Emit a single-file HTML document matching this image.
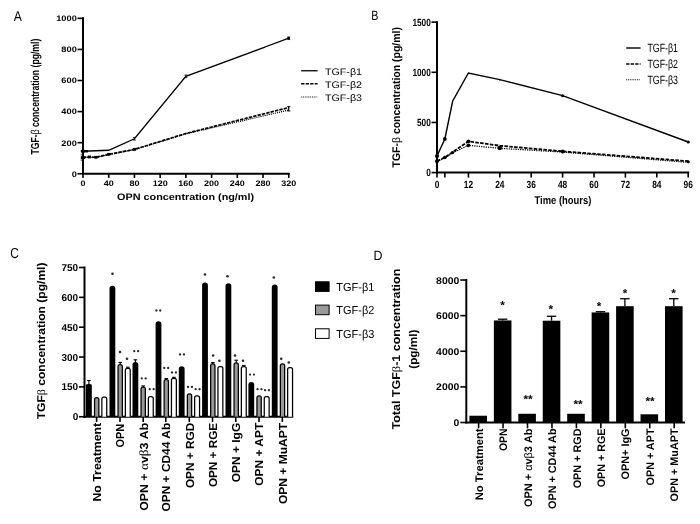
<!DOCTYPE html>
<html><head><meta charset="utf-8"><title>Figure</title>
<style>
html,body{margin:0;padding:0;background:#fff;}
body{width:700px;height:524px;overflow:hidden;}
svg{display:block;font-family:'Liberation Sans', sans-serif;}
svg text{font-family:"Liberation Sans",sans-serif;fill:#000;}
</style></head><body>
<svg width="700" height="524" viewBox="0 0 700 524" shape-rendering="geometricPrecision" text-rendering="geometricPrecision">
<defs><filter id="soft" x="0" y="0" width="700" height="524" filterUnits="userSpaceOnUse"><feGaussianBlur stdDeviation="0.38"/></filter></defs>
<rect x="0" y="0" width="700" height="524" fill="#fff"/>
<g filter="url(#soft)">
<text x="13.70" y="20.72" font-size="14.3" text-anchor="start" textLength="8.10" lengthAdjust="spacingAndGlyphs">A</text>
<text x="371.20" y="20.00" font-size="13.4" text-anchor="start" textLength="7.20" lengthAdjust="spacingAndGlyphs">B</text>
<text x="10.20" y="258.19" font-size="14.5" text-anchor="start" textLength="8.60" lengthAdjust="spacingAndGlyphs">C</text>
<text x="373.60" y="260.10" font-size="13.4" text-anchor="start" textLength="9.00" lengthAdjust="spacingAndGlyphs">D</text>
<line x1="83.00" y1="17.35" x2="83.00" y2="174.75" stroke="#000" stroke-width="2"/>
<line x1="82.00" y1="173.75" x2="289.75" y2="173.75" stroke="#000" stroke-width="2"/>
<line x1="77.50" y1="173.75" x2="83.00" y2="173.75" stroke="#000" stroke-width="1.6"/>
<text x="76.80" y="176.61" font-size="8.0" font-weight="bold" text-anchor="end" textLength="5.15" lengthAdjust="spacingAndGlyphs">0</text>
<line x1="77.50" y1="142.67" x2="83.00" y2="142.67" stroke="#000" stroke-width="1.6"/>
<text x="76.80" y="145.53" font-size="8.0" font-weight="bold" text-anchor="end" textLength="15.45" lengthAdjust="spacingAndGlyphs">200</text>
<line x1="77.50" y1="111.59" x2="83.00" y2="111.59" stroke="#000" stroke-width="1.6"/>
<text x="76.80" y="114.45" font-size="8.0" font-weight="bold" text-anchor="end" textLength="15.45" lengthAdjust="spacingAndGlyphs">400</text>
<line x1="77.50" y1="80.51" x2="83.00" y2="80.51" stroke="#000" stroke-width="1.6"/>
<text x="76.80" y="83.37" font-size="8.0" font-weight="bold" text-anchor="end" textLength="15.45" lengthAdjust="spacingAndGlyphs">600</text>
<line x1="77.50" y1="49.43" x2="83.00" y2="49.43" stroke="#000" stroke-width="1.6"/>
<text x="76.80" y="52.29" font-size="8.0" font-weight="bold" text-anchor="end" textLength="15.45" lengthAdjust="spacingAndGlyphs">800</text>
<line x1="77.50" y1="18.35" x2="83.00" y2="18.35" stroke="#000" stroke-width="1.6"/>
<text x="76.80" y="21.21" font-size="8.0" font-weight="bold" text-anchor="end" textLength="20.60" lengthAdjust="spacingAndGlyphs">1000</text>
<line x1="83.00" y1="173.75" x2="83.00" y2="177.95" stroke="#000" stroke-width="1.6"/>
<text x="83.00" y="185.76" font-size="8.0" font-weight="bold" text-anchor="middle" textLength="5.00" lengthAdjust="spacingAndGlyphs">0</text>
<line x1="108.72" y1="173.75" x2="108.72" y2="177.95" stroke="#000" stroke-width="1.6"/>
<text x="108.72" y="185.76" font-size="8.0" font-weight="bold" text-anchor="middle" textLength="10.00" lengthAdjust="spacingAndGlyphs">40</text>
<line x1="134.44" y1="173.75" x2="134.44" y2="177.95" stroke="#000" stroke-width="1.6"/>
<text x="134.44" y="185.76" font-size="8.0" font-weight="bold" text-anchor="middle" textLength="10.00" lengthAdjust="spacingAndGlyphs">80</text>
<line x1="160.16" y1="173.75" x2="160.16" y2="177.95" stroke="#000" stroke-width="1.6"/>
<text x="160.16" y="185.76" font-size="8.0" font-weight="bold" text-anchor="middle" textLength="15.00" lengthAdjust="spacingAndGlyphs">120</text>
<line x1="185.88" y1="173.75" x2="185.88" y2="177.95" stroke="#000" stroke-width="1.6"/>
<text x="185.88" y="185.76" font-size="8.0" font-weight="bold" text-anchor="middle" textLength="15.00" lengthAdjust="spacingAndGlyphs">160</text>
<line x1="211.59" y1="173.75" x2="211.59" y2="177.95" stroke="#000" stroke-width="1.6"/>
<text x="211.59" y="185.76" font-size="8.0" font-weight="bold" text-anchor="middle" textLength="15.00" lengthAdjust="spacingAndGlyphs">200</text>
<line x1="237.31" y1="173.75" x2="237.31" y2="177.95" stroke="#000" stroke-width="1.6"/>
<text x="237.31" y="185.76" font-size="8.0" font-weight="bold" text-anchor="middle" textLength="15.00" lengthAdjust="spacingAndGlyphs">240</text>
<line x1="263.03" y1="173.75" x2="263.03" y2="177.95" stroke="#000" stroke-width="1.6"/>
<text x="263.03" y="185.76" font-size="8.0" font-weight="bold" text-anchor="middle" textLength="15.00" lengthAdjust="spacingAndGlyphs">280</text>
<line x1="288.75" y1="173.75" x2="288.75" y2="177.95" stroke="#000" stroke-width="1.6"/>
<text x="288.75" y="185.76" font-size="8.0" font-weight="bold" text-anchor="middle" textLength="15.00" lengthAdjust="spacingAndGlyphs">320</text>
<text x="185.60" y="200.07" font-size="9.4" font-weight="bold" text-anchor="middle" textLength="137.00" lengthAdjust="spacingAndGlyphs">OPN concentration (ng/ml)</text>
<text transform="translate(39.25,154.50) rotate(-90)" font-size="11.6" font-weight="bold" text-anchor="start" textLength="115.80" lengthAdjust="spacingAndGlyphs">TGF-<tspan font-weight="normal">&#946;</tspan> concentration (pg/ml)</text>
<polyline points="83.00,151.22 108.72,150.28 134.44,138.78 185.88,76.31 288.75,38.24" fill="none" stroke="#000" stroke-width="1.35" stroke-linejoin="miter"/>
<polyline points="83.00,157.43 89.43,156.97 95.86,157.28 108.72,154.32 134.44,149.35 185.88,133.50 288.75,107.55" fill="none" stroke="#000" stroke-width="1.7" stroke-dasharray="3.4 1.1" stroke-linejoin="miter"/>
<polyline points="83.00,157.74 89.43,157.28 95.86,157.59 108.72,154.64 134.44,149.66 185.88,133.81 288.75,110.04" fill="none" stroke="#000" stroke-width="1.2" stroke-dasharray="1.1 1.0" stroke-linejoin="miter"/>
<line x1="81.60" y1="149.92" x2="84.40" y2="149.92" stroke="#000" stroke-width="0.8"/>
<line x1="81.60" y1="152.52" x2="84.40" y2="152.52" stroke="#000" stroke-width="0.8"/>
<line x1="83.00" y1="149.92" x2="83.00" y2="152.52" stroke="#000" stroke-width="0.8"/>
<line x1="133.04" y1="137.48" x2="135.84" y2="137.48" stroke="#000" stroke-width="0.8"/>
<line x1="133.04" y1="140.09" x2="135.84" y2="140.09" stroke="#000" stroke-width="0.8"/>
<line x1="134.44" y1="137.48" x2="134.44" y2="140.09" stroke="#000" stroke-width="0.8"/>
<line x1="184.47" y1="75.01" x2="187.28" y2="75.01" stroke="#000" stroke-width="0.8"/>
<line x1="184.47" y1="77.61" x2="187.28" y2="77.61" stroke="#000" stroke-width="0.8"/>
<line x1="185.88" y1="75.01" x2="185.88" y2="77.61" stroke="#000" stroke-width="0.8"/>
<line x1="287.35" y1="36.94" x2="290.15" y2="36.94" stroke="#000" stroke-width="0.8"/>
<line x1="287.35" y1="39.54" x2="290.15" y2="39.54" stroke="#000" stroke-width="0.8"/>
<line x1="288.75" y1="36.94" x2="288.75" y2="39.54" stroke="#000" stroke-width="0.8"/>
<rect x="80.80" y="150.02" width="7.20" height="2.40" fill="#000"/>
<rect x="80.80" y="156.19" width="4.00" height="2.80" fill="#000"/>
<line x1="80.60" y1="154.79" x2="83.00" y2="154.79" stroke="#000" stroke-width="0.8"/>
<line x1="80.60" y1="160.07" x2="83.00" y2="160.07" stroke="#000" stroke-width="0.8"/>
<rect x="81.40" y="156.03" width="3.20" height="2.80" fill="#000"/>
<rect x="87.83" y="155.57" width="3.20" height="2.80" fill="#000"/>
<rect x="94.26" y="155.88" width="3.20" height="2.80" fill="#000"/>
<rect x="107.12" y="152.92" width="3.20" height="2.80" fill="#000"/>
<rect x="132.84" y="147.95" width="3.20" height="2.80" fill="#000"/>
<line x1="287.15" y1="106.59" x2="290.35" y2="106.59" stroke="#000" stroke-width="0.9"/>
<line x1="287.15" y1="110.99" x2="290.35" y2="110.99" stroke="#000" stroke-width="0.9"/>
<line x1="288.75" y1="106.59" x2="288.75" y2="110.99" stroke="#000" stroke-width="1.2"/>
<rect x="287.35" y="37.14" width="2.60" height="2.20" fill="#000"/>
<line x1="301.20" y1="70.75" x2="317.60" y2="70.75" stroke="#000" stroke-width="1.3"/>
<text x="325.00" y="74.55" font-size="9.5" text-anchor="start" textLength="37.00" lengthAdjust="spacingAndGlyphs">TGF-&#946;1</text>
<line x1="301.20" y1="83.75" x2="317.60" y2="83.75" stroke="#000" stroke-width="1.5" stroke-dasharray="3.3 1.2"/>
<text x="325.00" y="87.55" font-size="9.5" text-anchor="start" textLength="37.00" lengthAdjust="spacingAndGlyphs">TGF-&#946;2</text>
<line x1="301.20" y1="97.00" x2="317.60" y2="97.00" stroke="#000" stroke-width="1.0" stroke-dasharray="0.9 0.9"/>
<text x="325.00" y="100.80" font-size="9.5" text-anchor="start" textLength="37.00" lengthAdjust="spacingAndGlyphs">TGF-&#946;3</text>
<line x1="437.00" y1="21.15" x2="437.00" y2="173.60" stroke="#000" stroke-width="2"/>
<line x1="436.00" y1="172.60" x2="689.20" y2="172.60" stroke="#000" stroke-width="2"/>
<line x1="431.50" y1="172.60" x2="437.00" y2="172.60" stroke="#000" stroke-width="1.6"/>
<text x="430.80" y="176.32" font-size="10.4" font-weight="bold" text-anchor="end" textLength="4.60" lengthAdjust="spacingAndGlyphs">0</text>
<line x1="431.50" y1="122.45" x2="437.00" y2="122.45" stroke="#000" stroke-width="1.6"/>
<text x="430.80" y="126.17" font-size="10.4" font-weight="bold" text-anchor="end" textLength="13.80" lengthAdjust="spacingAndGlyphs">500</text>
<line x1="431.50" y1="72.30" x2="437.00" y2="72.30" stroke="#000" stroke-width="1.6"/>
<text x="430.80" y="76.02" font-size="10.4" font-weight="bold" text-anchor="end" textLength="18.40" lengthAdjust="spacingAndGlyphs">1000</text>
<line x1="431.50" y1="22.15" x2="437.00" y2="22.15" stroke="#000" stroke-width="1.6"/>
<text x="430.80" y="25.87" font-size="10.4" font-weight="bold" text-anchor="end" textLength="18.40" lengthAdjust="spacingAndGlyphs">1500</text>
<line x1="437.00" y1="172.60" x2="437.00" y2="177.60" stroke="#000" stroke-width="1.6"/>
<line x1="444.85" y1="172.60" x2="444.85" y2="177.60" stroke="#000" stroke-width="1.6"/>
<line x1="468.40" y1="172.60" x2="468.40" y2="177.60" stroke="#000" stroke-width="1.6"/>
<line x1="499.80" y1="172.60" x2="499.80" y2="177.60" stroke="#000" stroke-width="1.6"/>
<line x1="531.20" y1="172.60" x2="531.20" y2="177.60" stroke="#000" stroke-width="1.6"/>
<line x1="562.60" y1="172.60" x2="562.60" y2="177.60" stroke="#000" stroke-width="1.6"/>
<line x1="594.00" y1="172.60" x2="594.00" y2="177.60" stroke="#000" stroke-width="1.6"/>
<line x1="625.40" y1="172.60" x2="625.40" y2="177.60" stroke="#000" stroke-width="1.6"/>
<line x1="656.80" y1="172.60" x2="656.80" y2="177.60" stroke="#000" stroke-width="1.6"/>
<line x1="688.20" y1="172.60" x2="688.20" y2="177.60" stroke="#000" stroke-width="1.6"/>
<text x="437.00" y="187.72" font-size="10.4" font-weight="bold" text-anchor="middle" textLength="4.65" lengthAdjust="spacingAndGlyphs">0</text>
<text x="468.40" y="187.72" font-size="10.4" font-weight="bold" text-anchor="middle" textLength="9.30" lengthAdjust="spacingAndGlyphs">12</text>
<text x="499.80" y="187.72" font-size="10.4" font-weight="bold" text-anchor="middle" textLength="9.30" lengthAdjust="spacingAndGlyphs">24</text>
<text x="531.20" y="187.72" font-size="10.4" font-weight="bold" text-anchor="middle" textLength="9.30" lengthAdjust="spacingAndGlyphs">36</text>
<text x="562.60" y="187.72" font-size="10.4" font-weight="bold" text-anchor="middle" textLength="9.30" lengthAdjust="spacingAndGlyphs">48</text>
<text x="594.00" y="187.72" font-size="10.4" font-weight="bold" text-anchor="middle" textLength="9.30" lengthAdjust="spacingAndGlyphs">60</text>
<text x="625.40" y="187.72" font-size="10.4" font-weight="bold" text-anchor="middle" textLength="9.30" lengthAdjust="spacingAndGlyphs">72</text>
<text x="656.80" y="187.72" font-size="10.4" font-weight="bold" text-anchor="middle" textLength="9.30" lengthAdjust="spacingAndGlyphs">84</text>
<text x="688.20" y="187.72" font-size="10.4" font-weight="bold" text-anchor="middle" textLength="9.30" lengthAdjust="spacingAndGlyphs">96</text>
<text x="562.90" y="204.11" font-size="11.2" font-weight="bold" text-anchor="middle" textLength="56.80" lengthAdjust="spacingAndGlyphs">Time (hours)</text>
<text transform="translate(400.17,167.50) rotate(-90)" font-size="11.1" font-weight="bold" text-anchor="start" textLength="140.50" lengthAdjust="spacingAndGlyphs">TGF-<tspan font-weight="normal">&#946;</tspan> concentration (pg/ml)</text>
<polyline points="437.00,156.05 444.85,139.00 452.70,100.89 468.40,73.00 499.80,79.62 562.60,95.67 688.20,142.01" fill="none" stroke="#000" stroke-width="1.45" stroke-linejoin="miter"/>
<polyline points="437.00,161.07 444.85,157.35 452.70,152.04 468.40,141.31 499.80,145.72 562.60,151.34 688.20,161.17" fill="none" stroke="#000" stroke-width="1.8" stroke-dasharray="3.6 1.3" stroke-linejoin="miter"/>
<polyline points="437.00,161.77 444.85,157.96 452.70,152.94 468.40,145.32 499.80,148.33 562.60,152.04 688.20,162.37" fill="none" stroke="#000" stroke-width="1.3" stroke-dasharray="1.2 1.1" stroke-linejoin="miter"/>
<circle cx="437.00" cy="156.05" r="2.1" fill="#000"/>
<circle cx="444.85" cy="139.00" r="1.9" fill="#000"/>
<circle cx="562.60" cy="95.67" r="1.5" fill="#000"/>
<circle cx="688.20" cy="142.01" r="1.6" fill="#000"/>
<circle cx="499.80" cy="79.62" r="0.9" fill="#000"/>
<circle cx="437.00" cy="161.37" r="2.0" fill="#000"/>
<circle cx="444.85" cy="157.56" r="1.8" fill="#000"/>
<circle cx="452.70" cy="152.54" r="1.6" fill="#000"/>
<circle cx="468.40" cy="141.31" r="1.9" fill="#000"/>
<circle cx="468.40" cy="145.32" r="1.9" fill="#000"/>
<circle cx="499.80" cy="148.03" r="2.2" fill="#000"/>
<circle cx="562.60" cy="151.54" r="2.0" fill="#000"/>
<circle cx="688.20" cy="161.77" r="1.6" fill="#000"/>
<line x1="626.20" y1="48.00" x2="640.60" y2="48.00" stroke="#000" stroke-width="1.4"/>
<text x="647.40" y="51.90" font-size="12" text-anchor="start" textLength="30.60" lengthAdjust="spacingAndGlyphs">TGF-&#946;1</text>
<line x1="626.20" y1="64.00" x2="640.60" y2="64.00" stroke="#000" stroke-width="1.6" stroke-dasharray="3.3 1.2"/>
<text x="647.40" y="67.90" font-size="12" text-anchor="start" textLength="30.60" lengthAdjust="spacingAndGlyphs">TGF-&#946;2</text>
<line x1="626.20" y1="79.75" x2="640.60" y2="79.75" stroke="#000" stroke-width="1.0" stroke-dasharray="0.9 0.9"/>
<text x="647.40" y="83.65" font-size="12" text-anchor="start" textLength="30.60" lengthAdjust="spacingAndGlyphs">TGF-&#946;3</text>
<line x1="84.50" y1="266.50" x2="84.50" y2="417.75" stroke="#000" stroke-width="2"/>
<line x1="83.50" y1="416.75" x2="293.20" y2="416.75" stroke="#000" stroke-width="2"/>
<line x1="79.00" y1="416.75" x2="84.50" y2="416.75" stroke="#000" stroke-width="1.6"/>
<text x="78.20" y="420.33" font-size="10" font-weight="bold" text-anchor="end">0</text>
<line x1="79.00" y1="386.90" x2="84.50" y2="386.90" stroke="#000" stroke-width="1.6"/>
<text x="78.20" y="390.48" font-size="10" font-weight="bold" text-anchor="end">150</text>
<line x1="79.00" y1="357.05" x2="84.50" y2="357.05" stroke="#000" stroke-width="1.6"/>
<text x="78.20" y="360.63" font-size="10" font-weight="bold" text-anchor="end">300</text>
<line x1="79.00" y1="327.20" x2="84.50" y2="327.20" stroke="#000" stroke-width="1.6"/>
<text x="78.20" y="330.78" font-size="10" font-weight="bold" text-anchor="end">450</text>
<line x1="79.00" y1="297.35" x2="84.50" y2="297.35" stroke="#000" stroke-width="1.6"/>
<text x="78.20" y="300.93" font-size="10" font-weight="bold" text-anchor="end">600</text>
<line x1="79.00" y1="267.50" x2="84.50" y2="267.50" stroke="#000" stroke-width="1.6"/>
<text x="78.20" y="271.08" font-size="10" font-weight="bold" text-anchor="end">750</text>
<line x1="88.90" y1="380.51" x2="88.90" y2="384.92" stroke="#000" stroke-width="1.1"/>
<line x1="87.10" y1="380.51" x2="90.70" y2="380.51" stroke="#000" stroke-width="1.1"/>
<path d="M86.00,416.75 V384.72 Q86.00,383.92 88.90,383.92 Q91.80,383.92 91.80,384.72 V416.75 Z" fill="#000"/>
<path d="M94.55,416.75 V399.64 Q94.55,397.74 96.45,397.74 H96.95 Q98.85,397.74 98.85,399.64 V416.75" fill="#999" stroke="#000" stroke-width="1.25"/>
<path d="M101.85,416.75 V399.05 Q101.85,397.15 103.75,397.15 H104.85 Q106.75,397.15 106.75,399.05 V416.75" fill="#fff" stroke="#000" stroke-width="1.25"/>
<line x1="96.60" y1="416.75" x2="96.60" y2="421.95" stroke="#000" stroke-width="1.6"/>
<text transform="translate(100.95,422.80) rotate(-90)" font-size="11.6" font-weight="bold" text-anchor="end" textLength="78.80" lengthAdjust="spacingAndGlyphs">No Treatment</text>
<path d="M109.50,416.75 V288.41 Q109.50,285.81 112.40,285.81 Q115.30,285.81 115.30,288.41 V416.75 Z" fill="#000"/>
<line x1="120.20" y1="362.41" x2="120.20" y2="366.01" stroke="#000" stroke-width="1.1"/>
<line x1="118.40" y1="362.41" x2="122.00" y2="362.41" stroke="#000" stroke-width="1.1"/>
<path d="M118.05,416.75 V366.61 Q118.05,364.71 119.95,364.71 H120.45 Q122.35,364.71 122.35,366.61 V416.75" fill="#999" stroke="#000" stroke-width="1.25"/>
<line x1="127.80" y1="367.19" x2="127.80" y2="369.79" stroke="#000" stroke-width="1.1"/>
<line x1="126.00" y1="367.19" x2="129.60" y2="367.19" stroke="#000" stroke-width="1.1"/>
<path d="M125.35,416.75 V370.39 Q125.35,368.49 127.25,368.49 H128.35 Q130.25,368.49 130.25,370.39 V416.75" fill="#fff" stroke="#000" stroke-width="1.25"/>
<line x1="120.00" y1="416.75" x2="120.00" y2="421.95" stroke="#000" stroke-width="1.6"/>
<text transform="translate(124.35,423.80) rotate(-90)" font-size="11.6" font-weight="bold" text-anchor="end" textLength="23.80" lengthAdjust="spacingAndGlyphs">OPN</text>
<line x1="135.40" y1="359.82" x2="135.40" y2="363.02" stroke="#000" stroke-width="1.1"/>
<line x1="133.60" y1="359.82" x2="137.20" y2="359.82" stroke="#000" stroke-width="1.1"/>
<path d="M132.50,416.75 V364.62 Q132.50,362.02 135.40,362.02 Q138.30,362.02 138.30,364.62 V416.75 Z" fill="#000"/>
<line x1="143.20" y1="385.90" x2="143.20" y2="388.50" stroke="#000" stroke-width="1.1"/>
<line x1="141.40" y1="385.90" x2="145.00" y2="385.90" stroke="#000" stroke-width="1.1"/>
<path d="M141.05,416.75 V389.10 Q141.05,387.20 142.95,387.20 H143.45 Q145.35,387.20 145.35,389.10 V416.75" fill="#999" stroke="#000" stroke-width="1.25"/>
<path d="M148.35,416.75 V398.45 Q148.35,396.55 150.25,396.55 H151.35 Q153.25,396.55 153.25,398.45 V416.75" fill="#fff" stroke="#000" stroke-width="1.25"/>
<line x1="143.20" y1="416.75" x2="143.20" y2="421.95" stroke="#000" stroke-width="1.6"/>
<text transform="translate(147.55,422.80) rotate(-90)" font-size="11.6" font-weight="bold" text-anchor="end" textLength="88.00" lengthAdjust="spacingAndGlyphs">OPN + <tspan font-weight="normal" font-family="Liberation Serif" font-size="12.5">&#945;</tspan>v<tspan font-weight="normal" font-family="Liberation Serif" font-size="12.5">&#946;</tspan>3 Ab</text>
<path d="M155.60,416.75 V323.83 Q155.60,321.23 158.50,321.23 Q161.40,321.23 161.40,323.83 V416.75 Z" fill="#000"/>
<line x1="166.30" y1="378.53" x2="166.30" y2="380.94" stroke="#000" stroke-width="1.1"/>
<line x1="164.50" y1="378.53" x2="168.10" y2="378.53" stroke="#000" stroke-width="1.1"/>
<path d="M164.15,416.75 V381.53 Q164.15,379.63 166.05,379.63 H166.55 Q168.45,379.63 168.45,381.53 V416.75" fill="#999" stroke="#000" stroke-width="1.25"/>
<line x1="173.90" y1="377.34" x2="173.90" y2="379.74" stroke="#000" stroke-width="1.1"/>
<line x1="172.10" y1="377.34" x2="175.70" y2="377.34" stroke="#000" stroke-width="1.1"/>
<path d="M171.45,416.75 V380.34 Q171.45,378.44 173.35,378.44 H174.45 Q176.35,378.44 176.35,380.34 V416.75" fill="#fff" stroke="#000" stroke-width="1.25"/>
<line x1="165.80" y1="416.75" x2="165.80" y2="421.95" stroke="#000" stroke-width="1.6"/>
<text transform="translate(170.15,422.80) rotate(-90)" font-size="11.6" font-weight="bold" text-anchor="end" textLength="88.80" lengthAdjust="spacingAndGlyphs">OPN + CD44 Ab</text>
<path d="M178.80,416.75 V368.80 Q178.80,366.20 181.70,366.20 Q184.60,366.20 184.60,368.80 V416.75 Z" fill="#000"/>
<path d="M187.35,416.75 V395.86 Q187.35,393.96 189.25,393.96 H189.75 Q191.65,393.96 191.65,395.86 V416.75" fill="#999" stroke="#000" stroke-width="1.25"/>
<path d="M194.65,416.75 V397.85 Q194.65,395.95 196.55,395.95 H197.65 Q199.55,395.95 199.55,397.85 V416.75" fill="#fff" stroke="#000" stroke-width="1.25"/>
<line x1="189.30" y1="416.75" x2="189.30" y2="421.95" stroke="#000" stroke-width="1.6"/>
<text transform="translate(193.65,422.80) rotate(-90)" font-size="11.6" font-weight="bold" text-anchor="end" textLength="65.30" lengthAdjust="spacingAndGlyphs">OPN + RGD</text>
<path d="M202.10,416.75 V285.02 Q202.10,282.42 205.00,282.42 Q207.90,282.42 207.90,285.02 V416.75 Z" fill="#000"/>
<line x1="212.80" y1="362.61" x2="212.80" y2="365.21" stroke="#000" stroke-width="1.1"/>
<line x1="211.00" y1="362.61" x2="214.60" y2="362.61" stroke="#000" stroke-width="1.1"/>
<path d="M210.65,416.75 V365.81 Q210.65,363.91 212.55,363.91 H213.05 Q214.95,363.91 214.95,365.81 V416.75" fill="#999" stroke="#000" stroke-width="1.25"/>
<path d="M217.95,416.75 V368.40 Q217.95,366.50 219.85,366.50 H220.95 Q222.85,366.50 222.85,368.40 V416.75" fill="#fff" stroke="#000" stroke-width="1.25"/>
<line x1="212.50" y1="416.75" x2="212.50" y2="421.95" stroke="#000" stroke-width="1.6"/>
<text transform="translate(216.85,422.80) rotate(-90)" font-size="11.6" font-weight="bold" text-anchor="end" textLength="64.30" lengthAdjust="spacingAndGlyphs">OPN + RGE</text>
<path d="M225.50,416.75 V285.82 Q225.50,283.22 228.40,283.22 Q231.30,283.22 231.30,285.82 V416.75 Z" fill="#000"/>
<line x1="236.20" y1="360.22" x2="236.20" y2="364.22" stroke="#000" stroke-width="1.1"/>
<line x1="234.40" y1="360.22" x2="238.00" y2="360.22" stroke="#000" stroke-width="1.1"/>
<path d="M234.05,416.75 V364.82 Q234.05,362.92 235.95,362.92 H236.45 Q238.35,362.92 238.35,364.82 V416.75" fill="#999" stroke="#000" stroke-width="1.25"/>
<line x1="243.80" y1="365.60" x2="243.80" y2="368.00" stroke="#000" stroke-width="1.1"/>
<line x1="242.00" y1="365.60" x2="245.60" y2="365.60" stroke="#000" stroke-width="1.1"/>
<path d="M241.35,416.75 V368.60 Q241.35,366.70 243.25,366.70 H244.35 Q246.25,366.70 246.25,368.60 V416.75" fill="#fff" stroke="#000" stroke-width="1.25"/>
<line x1="235.80" y1="416.75" x2="235.80" y2="421.95" stroke="#000" stroke-width="1.6"/>
<text transform="translate(240.15,422.80) rotate(-90)" font-size="11.6" font-weight="bold" text-anchor="end" textLength="59.50" lengthAdjust="spacingAndGlyphs">OPN + IgG</text>
<path d="M248.40,416.75 V384.53 Q248.40,381.93 251.30,381.93 Q254.20,381.93 254.20,384.53 V416.75 Z" fill="#000"/>
<path d="M256.95,416.75 V397.85 Q256.95,395.95 258.85,395.95 H259.35 Q261.25,395.95 261.25,397.85 V416.75" fill="#999" stroke="#000" stroke-width="1.25"/>
<path d="M264.25,416.75 V398.45 Q264.25,396.55 266.15,396.55 H267.25 Q269.15,396.55 269.15,398.45 V416.75" fill="#fff" stroke="#000" stroke-width="1.25"/>
<line x1="259.00" y1="416.75" x2="259.00" y2="421.95" stroke="#000" stroke-width="1.6"/>
<text transform="translate(263.35,422.80) rotate(-90)" font-size="11.6" font-weight="bold" text-anchor="end" textLength="63.00" lengthAdjust="spacingAndGlyphs">OPN + APT</text>
<path d="M271.80,416.75 V287.01 Q271.80,284.41 274.70,284.41 Q277.60,284.41 277.60,287.01 V416.75 Z" fill="#000"/>
<path d="M280.35,416.75 V365.81 Q280.35,363.91 282.25,363.91 H282.75 Q284.65,363.91 284.65,365.81 V416.75" fill="#999" stroke="#000" stroke-width="1.25"/>
<path d="M287.65,416.75 V369.59 Q287.65,367.69 289.55,367.69 H290.65 Q292.55,367.69 292.55,369.59 V416.75" fill="#fff" stroke="#000" stroke-width="1.25"/>
<line x1="282.30" y1="416.75" x2="282.30" y2="421.95" stroke="#000" stroke-width="1.6"/>
<text transform="translate(286.65,422.80) rotate(-90)" font-size="11.6" font-weight="bold" text-anchor="end" textLength="81.30" lengthAdjust="spacingAndGlyphs">OPN + MuAPT</text>
<circle cx="112.50" cy="273.80" r="1.3" fill="#2a2a2a"/>
<circle cx="120.00" cy="352.00" r="1.3" fill="#2a2a2a"/>
<circle cx="127.00" cy="358.80" r="1.3" fill="#2a2a2a"/>
<circle cx="134.25" cy="351.20" r="1.15" fill="#2a2a2a"/><circle cx="138.15" cy="351.20" r="1.15" fill="#2a2a2a"/>
<circle cx="141.75" cy="378.40" r="1.15" fill="#2a2a2a"/><circle cx="145.65" cy="378.40" r="1.15" fill="#2a2a2a"/>
<circle cx="149.75" cy="389.20" r="1.15" fill="#2a2a2a"/><circle cx="153.65" cy="389.20" r="1.15" fill="#2a2a2a"/>
<circle cx="156.35" cy="310.50" r="1.15" fill="#2a2a2a"/><circle cx="160.25" cy="310.50" r="1.15" fill="#2a2a2a"/>
<circle cx="164.25" cy="368.00" r="1.15" fill="#2a2a2a"/><circle cx="168.15" cy="368.00" r="1.15" fill="#2a2a2a"/>
<circle cx="172.05" cy="372.50" r="1.15" fill="#2a2a2a"/><circle cx="175.95" cy="372.50" r="1.15" fill="#2a2a2a"/>
<circle cx="180.05" cy="354.50" r="1.15" fill="#2a2a2a"/><circle cx="183.95" cy="354.50" r="1.15" fill="#2a2a2a"/>
<circle cx="188.05" cy="387.00" r="1.15" fill="#2a2a2a"/><circle cx="191.95" cy="387.00" r="1.15" fill="#2a2a2a"/>
<circle cx="195.65" cy="389.20" r="1.15" fill="#2a2a2a"/><circle cx="199.55" cy="389.20" r="1.15" fill="#2a2a2a"/>
<circle cx="205.00" cy="274.50" r="1.3" fill="#2a2a2a"/>
<circle cx="213.20" cy="355.50" r="1.3" fill="#2a2a2a"/>
<circle cx="219.40" cy="360.80" r="1.3" fill="#2a2a2a"/>
<circle cx="227.50" cy="276.20" r="1.3" fill="#2a2a2a"/>
<circle cx="235.00" cy="355.50" r="1.3" fill="#2a2a2a"/>
<circle cx="243.00" cy="360.80" r="1.3" fill="#2a2a2a"/>
<circle cx="250.05" cy="374.60" r="1.15" fill="#2a2a2a"/><circle cx="253.95" cy="374.60" r="1.15" fill="#2a2a2a"/>
<circle cx="257.55" cy="389.20" r="1.15" fill="#2a2a2a"/><circle cx="261.45" cy="389.20" r="1.15" fill="#2a2a2a"/>
<circle cx="265.05" cy="390.20" r="1.15" fill="#2a2a2a"/><circle cx="268.95" cy="390.20" r="1.15" fill="#2a2a2a"/>
<circle cx="273.80" cy="277.50" r="1.3" fill="#2a2a2a"/>
<circle cx="281.20" cy="358.80" r="1.3" fill="#2a2a2a"/>
<circle cx="288.80" cy="362.50" r="1.3" fill="#2a2a2a"/>
<text transform="translate(45.45,419.30) rotate(-90)" font-size="11.3" font-weight="bold" text-anchor="start" textLength="156.80" lengthAdjust="spacingAndGlyphs">TGF<tspan font-weight="normal" font-family="Liberation Serif">&#946;</tspan> concentration (pg/ml)</text>
<rect x="315.50" y="281.80" width="13.60" height="9.60" fill="#000" stroke="#000" stroke-width="1.0"/>
<text x="336.30" y="290.65" font-size="11.6" text-anchor="start" textLength="38.00" lengthAdjust="spacingAndGlyphs">TGF-&#946;1</text>
<rect x="315.50" y="305.10" width="13.60" height="9.60" fill="#999" stroke="#000" stroke-width="1.0"/>
<text x="336.30" y="313.95" font-size="11.6" text-anchor="start" textLength="38.00" lengthAdjust="spacingAndGlyphs">TGF-&#946;2</text>
<rect x="315.50" y="328.80" width="13.60" height="9.60" fill="#fff" stroke="#000" stroke-width="1.0"/>
<text x="336.30" y="337.65" font-size="11.6" text-anchor="start" textLength="38.00" lengthAdjust="spacingAndGlyphs">TGF-&#946;3</text>
<line x1="466.30" y1="279.02" x2="466.30" y2="423.50" stroke="#000" stroke-width="2"/>
<line x1="465.30" y1="422.50" x2="685.00" y2="422.50" stroke="#000" stroke-width="2"/>
<line x1="460.30" y1="422.50" x2="466.30" y2="422.50" stroke="#000" stroke-width="1.6"/>
<text x="459.30" y="426.01" font-size="9.8" font-weight="bold" text-anchor="end" textLength="5.80" lengthAdjust="spacingAndGlyphs">0</text>
<line x1="460.30" y1="386.88" x2="466.30" y2="386.88" stroke="#000" stroke-width="1.6"/>
<text x="459.30" y="390.39" font-size="9.8" font-weight="bold" text-anchor="end" textLength="23.20" lengthAdjust="spacingAndGlyphs">2000</text>
<line x1="460.30" y1="351.26" x2="466.30" y2="351.26" stroke="#000" stroke-width="1.6"/>
<text x="459.30" y="354.77" font-size="9.8" font-weight="bold" text-anchor="end" textLength="23.20" lengthAdjust="spacingAndGlyphs">4000</text>
<line x1="460.30" y1="315.64" x2="466.30" y2="315.64" stroke="#000" stroke-width="1.6"/>
<text x="459.30" y="319.15" font-size="9.8" font-weight="bold" text-anchor="end" textLength="23.20" lengthAdjust="spacingAndGlyphs">6000</text>
<line x1="460.30" y1="280.02" x2="466.30" y2="280.02" stroke="#000" stroke-width="1.6"/>
<text x="459.30" y="283.53" font-size="9.8" font-weight="bold" text-anchor="end" textLength="23.20" lengthAdjust="spacingAndGlyphs">8000</text>
<rect x="469.40" y="415.73" width="17.60" height="6.77" fill="#000"/>
<line x1="478.60" y1="422.50" x2="478.60" y2="428.30" stroke="#000" stroke-width="1.6"/>
<text transform="translate(482.74,428.50) rotate(-90)" font-size="11" font-weight="bold" text-anchor="end" textLength="71.80" lengthAdjust="spacingAndGlyphs">No Treatment</text>
<line x1="502.65" y1="319.20" x2="502.65" y2="320.45" stroke="#000" stroke-width="1.3"/>
<line x1="497.95" y1="319.20" x2="507.35" y2="319.20" stroke="#000" stroke-width="1.3"/>
<rect x="493.85" y="320.45" width="17.60" height="102.05" fill="#000"/>
<line x1="503.05" y1="422.50" x2="503.05" y2="428.30" stroke="#000" stroke-width="1.6"/>
<text transform="translate(507.19,428.50) rotate(-90)" font-size="11" font-weight="bold" text-anchor="end" textLength="22.60" lengthAdjust="spacingAndGlyphs">OPN</text>
<text x="502.50" y="308.72" font-size="11.5" font-weight="bold" text-anchor="middle" textLength="4.60" lengthAdjust="spacingAndGlyphs">*</text>
<rect x="518.30" y="413.77" width="17.60" height="8.73" fill="#000"/>
<line x1="527.50" y1="422.50" x2="527.50" y2="428.30" stroke="#000" stroke-width="1.6"/>
<text transform="translate(531.64,428.50) rotate(-90)" font-size="11" font-weight="bold" text-anchor="end" textLength="78.50" lengthAdjust="spacingAndGlyphs">OPN + <tspan font-weight="normal">&#945;</tspan>v<tspan font-weight="normal">&#946;</tspan>3 Ab</text>
<text x="528.00" y="402.92" font-size="11.5" font-weight="bold" text-anchor="middle" textLength="9.20" lengthAdjust="spacingAndGlyphs">**</text>
<line x1="551.55" y1="316.26" x2="551.55" y2="320.72" stroke="#000" stroke-width="1.3"/>
<line x1="546.85" y1="316.26" x2="556.25" y2="316.26" stroke="#000" stroke-width="1.3"/>
<rect x="542.75" y="320.72" width="17.60" height="101.78" fill="#000"/>
<line x1="551.95" y1="422.50" x2="551.95" y2="428.30" stroke="#000" stroke-width="1.6"/>
<text transform="translate(556.09,428.50) rotate(-90)" font-size="11" font-weight="bold" text-anchor="end" textLength="80.50" lengthAdjust="spacingAndGlyphs">OPN + CD44 Ab</text>
<text x="550.80" y="312.92" font-size="11.5" font-weight="bold" text-anchor="middle" textLength="4.60" lengthAdjust="spacingAndGlyphs">*</text>
<rect x="567.20" y="413.77" width="17.60" height="8.73" fill="#000"/>
<line x1="576.40" y1="422.50" x2="576.40" y2="428.30" stroke="#000" stroke-width="1.6"/>
<text transform="translate(580.54,428.50) rotate(-90)" font-size="11" font-weight="bold" text-anchor="end" textLength="59.80" lengthAdjust="spacingAndGlyphs">OPN + RGD</text>
<text x="578.00" y="408.42" font-size="11.5" font-weight="bold" text-anchor="middle" textLength="9.20" lengthAdjust="spacingAndGlyphs">**</text>
<line x1="600.45" y1="311.72" x2="600.45" y2="312.43" stroke="#000" stroke-width="1.3"/>
<line x1="595.75" y1="311.72" x2="605.15" y2="311.72" stroke="#000" stroke-width="1.3"/>
<rect x="591.65" y="312.43" width="17.60" height="110.07" fill="#000"/>
<line x1="600.85" y1="422.50" x2="600.85" y2="428.30" stroke="#000" stroke-width="1.6"/>
<text transform="translate(604.99,428.50) rotate(-90)" font-size="11" font-weight="bold" text-anchor="end" textLength="58.80" lengthAdjust="spacingAndGlyphs">OPN + RGE</text>
<text x="599.00" y="309.92" font-size="11.5" font-weight="bold" text-anchor="middle" textLength="4.60" lengthAdjust="spacingAndGlyphs">*</text>
<line x1="624.90" y1="298.72" x2="624.90" y2="306.20" stroke="#000" stroke-width="1.3"/>
<line x1="620.20" y1="298.72" x2="629.60" y2="298.72" stroke="#000" stroke-width="1.3"/>
<rect x="616.10" y="306.20" width="17.60" height="116.30" fill="#000"/>
<line x1="625.30" y1="422.50" x2="625.30" y2="428.30" stroke="#000" stroke-width="1.6"/>
<text transform="translate(629.44,428.50) rotate(-90)" font-size="11" font-weight="bold" text-anchor="end" textLength="51.00" lengthAdjust="spacingAndGlyphs">OPN+ IgG</text>
<text x="625.00" y="297.22" font-size="11.5" font-weight="bold" text-anchor="middle" textLength="4.60" lengthAdjust="spacingAndGlyphs">*</text>
<rect x="640.55" y="414.31" width="17.60" height="8.19" fill="#000"/>
<line x1="649.75" y1="422.50" x2="649.75" y2="428.30" stroke="#000" stroke-width="1.6"/>
<text transform="translate(653.89,428.50) rotate(-90)" font-size="11" font-weight="bold" text-anchor="end" textLength="57.00" lengthAdjust="spacingAndGlyphs">OPN + APT</text>
<text x="650.00" y="405.42" font-size="11.5" font-weight="bold" text-anchor="middle" textLength="9.20" lengthAdjust="spacingAndGlyphs">**</text>
<line x1="673.80" y1="298.72" x2="673.80" y2="306.20" stroke="#000" stroke-width="1.3"/>
<line x1="669.10" y1="298.72" x2="678.50" y2="298.72" stroke="#000" stroke-width="1.3"/>
<rect x="665.00" y="306.20" width="17.60" height="116.30" fill="#000"/>
<line x1="674.20" y1="422.50" x2="674.20" y2="428.30" stroke="#000" stroke-width="1.6"/>
<text transform="translate(678.34,428.50) rotate(-90)" font-size="11" font-weight="bold" text-anchor="end" textLength="72.90" lengthAdjust="spacingAndGlyphs">OPN + MuAPT</text>
<text x="673.50" y="297.22" font-size="11.5" font-weight="bold" text-anchor="middle" textLength="4.60" lengthAdjust="spacingAndGlyphs">*</text>
<text transform="translate(399.88,429.50) rotate(-90)" font-size="11.4" font-weight="bold" text-anchor="start" textLength="160.80" lengthAdjust="spacingAndGlyphs">Total TGF<tspan font-weight="normal" font-family="Liberation Serif">&#946;</tspan>-1 concentration</text>
<text transform="translate(416.61,368.80) rotate(-90)" font-size="11.2" font-weight="bold" text-anchor="start" textLength="39.30" lengthAdjust="spacingAndGlyphs">(pg/ml)</text>
</g>
</svg>
</body></html>
